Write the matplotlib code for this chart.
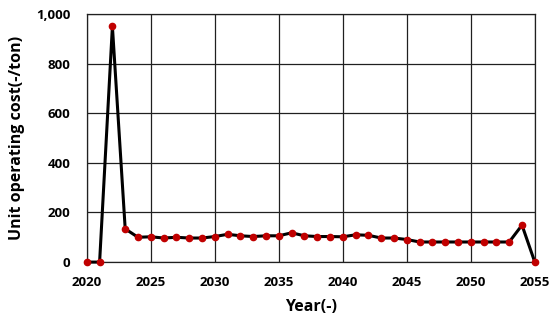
import matplotlib
matplotlib.use('Agg')
import matplotlib.pyplot as plt
from matplotlib.ticker import FuncFormatter

plt.rcParams['font.family'] = ['Open Sans', 'DejaVu Sans']

# unit operating cost per year
years = list(range(2020, 2056))
cost = [0, 0, 950, 134, 100, 102, 97, 100, 97, 97,
        103, 112, 106, 103, 106, 106, 118, 106, 103, 103,
        102, 110, 108, 97, 97, 91, 81, 81, 81, 81,
        81, 81, 81, 81, 149, 0]
x_ticks = [2020, 2025, 2030, 2035, 2040, 2045, 2050, 2055]
y_ticks = [0, 200, 400, 600, 800, 1000]

fig = plt.figure(figsize=(5.6, 3.2), dpi=100)
ax = fig.add_axes([0.155, 0.181, 0.80, 0.775])

ax.plot(years, cost, color='black', linewidth=2.2, zorder=3,
        marker='o', markersize=4.5, markerfacecolor='#c00000',
        markeredgecolor='#c00000', clip_on=False)

ax.set_xlim(2020, 2055)
ax.set_ylim(0, 1000)
ax.set_xticks(x_ticks)
ax.set_yticks(y_ticks)
ax.yaxis.set_major_formatter(FuncFormatter(lambda v, p: f'{int(v):,}'))
ax.grid(True, color='#202020', linewidth=0.9)
ax.set_axisbelow(True)
for s in ax.spines.values():
    s.set_color('#202020')
    s.set_linewidth(0.9)
ax.tick_params(axis='x', length=0, pad=10, labelsize=9.5)
ax.tick_params(axis='y', length=0, pad=12, labelsize=9.5)
for lab in ax.get_xticklabels() + ax.get_yticklabels():
    lab.set_fontweight('bold')

ax.set_xlabel('Year(-)', fontsize=11.5, fontweight='bold', labelpad=7)
ax.set_ylabel('Unit operating cost(-/ton)', fontsize=11.5, fontweight='bold', labelpad=8)

fig.savefig('out.png', dpi=100)
